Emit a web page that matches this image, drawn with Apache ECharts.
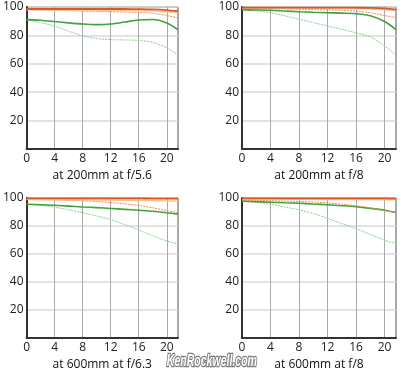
<!DOCTYPE html>
<html><head><meta charset="utf-8">
<script src="https://cdn.jsdelivr.net/npm/echarts@6/dist/echarts.min.js"></script>
<style>html,body{margin:0;padding:0;background:#fff}#c{width:402px;height:372px}</style>
</head><body><div id="c"></div>
<script>
var xs = [0, 2, 4, 6, 8, 10, 12, 14, 16, 18, 20, 21.6];
var xTicks = [0, 4, 8, 12, 16, 20];
var yTicks = [20, 40, 60, 80, 100];
var titles = ['at 200mm at f/5.6', 'at 200mm at f/8', 'at 600mm at f/6.3', 'at 600mm at f/8'];

// 10 lp/mm sagittal (red), 10 lp/mm faint, 10 lp/mm meridional (orange dotted), 30 lp/mm sagittal (green), 30 lp/mm meridional (green dotted)
var red1 = [98.6, 98.6, 98.6, 98.6, 98.6, 98.6, 98.6, 98.6, 98.5, 98.3, 97.8, 97.0];
var lor1 = [98.0, 98.0, 97.9, 97.9, 97.8, 97.8, 97.7, 97.6, 97.5, 97.2, 96.6, 95.8];
var ord1 = [98.3, 98.0, 97.7, 97.4, 97.1, 96.9, 96.7, 96.5, 96.2, 95.5, 94.0, 92.3];
var grs1 = [91.1, 90.7, 89.8, 88.8, 88.0, 87.6, 88.0, 89.4, 90.8, 91.2, 88.8, 84.1];
var grd1 = [91.0, 89.0, 86.5, 83.0, 79.6, 77.8, 77.0, 76.8, 76.4, 75.0, 71.3, 66.2];

var red2 = [99.6, 99.6, 99.6, 99.6, 99.6, 99.6, 99.6, 99.6, 99.5, 99.4, 99.0, 98.2];
var lor2 = [99.3, 99.3, 99.2, 99.2, 99.1, 99.1, 99.0, 98.9, 98.8, 98.6, 98.2, 97.5];
var ord2 = [99.0, 98.9, 98.8, 98.6, 98.4, 98.2, 98.0, 97.6, 97.0, 96.0, 94.0, 92.5];
var grs2 = [98.1, 97.9, 97.7, 97.2, 96.7, 96.3, 96.0, 95.7, 95.3, 93.9, 89.8, 84.1];
var grd2 = [98.1, 97.3, 96.0, 93.8, 91.4, 89.0, 86.6, 84.3, 81.8, 79.0, 72.5, 66.2];

var red3 = [99.7, 99.7, 99.7, 99.7, 99.7, 99.7, 99.7, 99.7, 99.7, 99.6, 99.6, 99.5];
var lor3 = [99.0, 99.0, 98.9, 98.8, 98.7, 98.6, 98.5, 98.4, 98.3, 98.1, 97.9, 97.8];
var ord3 = [99.0, 98.8, 98.6, 98.3, 98.0, 97.5, 96.8, 95.8, 94.6, 93.0, 91.0, 89.5];
var grs3 = [95.5, 95.2, 94.8, 94.2, 93.6, 93.1, 92.5, 91.9, 91.3, 90.5, 89.5, 88.5];
var grd3 = [95.5, 94.7, 93.4, 91.6, 89.5, 87.2, 84.6, 81.0, 77.2, 73.0, 69.3, 67.2];

var red4 = [99.8, 99.8, 99.8, 99.8, 99.8, 99.8, 99.8, 99.8, 99.8, 99.7, 99.7, 99.6];
var lor4 = [99.2, 99.2, 99.2, 99.1, 99.1, 99.1, 99.0, 99.0, 98.9, 98.9, 98.8, 98.8];
var ord4 = [98.5, 98.3, 98.1, 97.8, 97.5, 97.1, 96.5, 95.6, 94.5, 93.0, 91.0, 89.5];
var grs4 = [97.8, 97.4, 97.0, 96.6, 96.2, 95.7, 95.2, 94.5, 93.7, 92.6, 91.3, 89.6];
var grd4 = [97.8, 96.9, 95.5, 93.6, 91.5, 88.8, 85.5, 81.7, 78.0, 74.0, 69.8, 67.5];

var panels = [
  [red1, lor1, ord1, grs1, grd1],
  [red2, lor2, ord2, grs2, grd2],
  [red3, lor3, ord3, grs3, grd3],
  [red4, lor4, ord4, grs4, grd4]
];

var lineStyles = [
  {color: '#d95a22', width: 1.8, type: 'solid'},
  {color: '#f9c49c', width: 1.5, type: 'solid'},
  {color: '#f08a50', width: 1, type: [2, 1]},
  {color: '#3ea23e', width: 1.6, type: 'solid'},
  {color: '#8ccf8c', width: 1, type: [2, 1]}
];

var grids = [
  {left: 24, top: 7, width: 154, height: 142},
  {left: 242, top: 7, width: 154, height: 142},
  {left: 24, top: 198, width: 154, height: 142},
  {left: 242, top: 198, width: 154, height: 142}
];

var font = '"Open Sans", "Noto Sans", sans-serif';
var xAxes = [], yAxes = [], series = [];
grids.forEach(function (g, i) {
  g.show = true; g.borderColor = '#555'; g.borderWidth = 1; g.backgroundColor = '#fff';
  xAxes.push({
    type: 'value', gridIndex: i, min: 0, max: 21.6, interval: 4,
    name: titles[i], nameLocation: 'middle', nameGap: 21,
    nameTextStyle: {color: '#111', fontSize: 12, fontFamily: font},
    axisLine: {show: true, lineStyle: {color: '#333', width: 2}},
    axisTick: {show: false},
    axisLabel: {color: '#222', fontSize: 12, fontFamily: font, margin: 4,
      showMaxLabel: false,
      formatter: function (v) { return xTicks.indexOf(v) >= 0 ? String(v) : ''; }},
    splitLine: {show: true, lineStyle: {color: '#a8a8a8', width: 1}}
  });
  yAxes.push({
    type: 'value', gridIndex: i, min: 0, max: 100, interval: 20,
    axisLine: {show: true, lineStyle: {color: '#333', width: 2}},
    axisTick: {show: false},
    axisLabel: {color: '#222', fontSize: 12, fontFamily: font, margin: 3,
      formatter: function (v) { return yTicks.indexOf(v) >= 0 ? String(v) : ''; }},
    splitLine: {show: true, lineStyle: {color: '#d8d8d8', width: 1.5}}
  });
  panels[i].forEach(function (vals, k) {
    series.push({
      type: 'line', xAxisIndex: i, yAxisIndex: i, smooth: 0.3, symbol: 'none',
      z: 10 - k,
      lineStyle: lineStyles[k],
      data: xs.map(function (x, j) { return [x, vals[j]]; })
    });
  });
});

var chart = echarts.init(document.getElementById('c'), null, {renderer: 'canvas'});
chart.setOption({
  animation: false,
  grid: grids, xAxis: xAxes, yAxis: yAxes, series: series,
  graphic: [{
    type: 'text', left: 166, top: 352, z: 100,
    scaleX: 0.62,
    style: {text: 'KenRockwell.com', fill: '#ffffff', stroke: '#7a7a7a', lineWidth: 2.5,
      font: 'italic bold 17px "Liberation Sans", sans-serif'}
  }]
});
</script>
</body></html>
